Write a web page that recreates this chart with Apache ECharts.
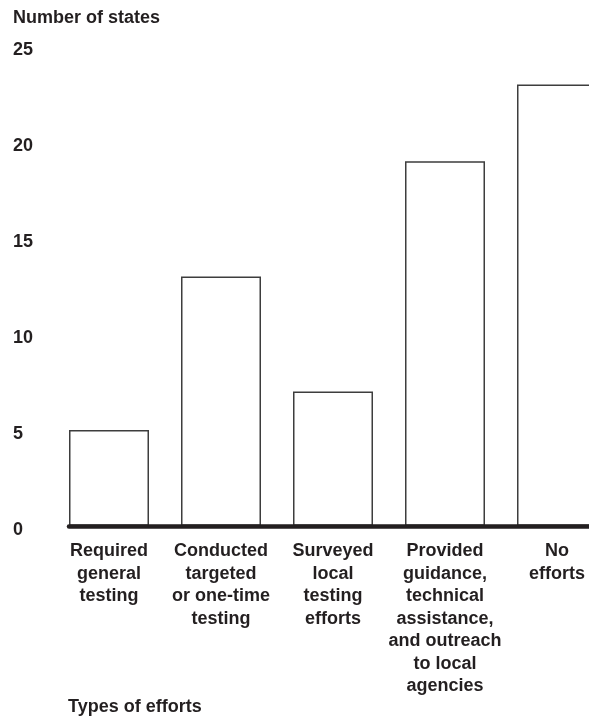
<!DOCTYPE html>
<html>
<head>
<meta charset="utf-8">
<script src="https://cdn.jsdelivr.net/npm/echarts@6/dist/echarts.min.js"></script>
<style>
html,body{margin:0;padding:0;background:#fff;}
#chart{width:589px;height:719px;}
</style>
</head>
<body>
<div id="chart"></div>
<script>
const categories = [
  "Required\ngeneral\ntesting",
  "Conducted\ntargeted\nor one-time\ntesting",
  "Surveyed\nlocal\ntesting\nefforts",
  "Provided\nguidance,\ntechnical\nassistance,\nand outreach\nto local\nagencies",
  "No\nefforts"
];
const values = [5, 13, 7, 19, 23];
const yTicks = [0, 5, 10, 15, 20, 25];
const yTitle = "Number of states";
const xTitle = "Types of efforts";

const txt = '#231f20';
const font = '"Liberation Sans", Arial, Helvetica, sans-serif';
const fs = 18;
const chart = echarts.init(document.getElementById('chart'), null, {renderer: 'canvas'});
chart.setOption({
  animation: false,
  backgroundColor: '#fff',
  textStyle: {fontFamily: font},
  title: [
    {text: yTitle, left: 13, top: 9, padding: 0, textStyle: {fontFamily: font, fontSize: fs, fontWeight: 'bold', color: txt}},
    {text: xTitle, left: 68, top: 698, padding: 0, textStyle: {fontFamily: font, fontSize: fs, fontWeight: 'bold', color: txt}}
  ],
  grid: [
    {left: 53, width: 560, top: 46, bottom: 193, outerBoundsMode: 'none', containLabel: false},
    {left: 69, width: 560, top: 46, bottom: 193, outerBoundsMode: 'none', containLabel: false}
  ],
  xAxis: [
    {
      type: 'category', gridIndex: 0, data: categories,
      axisLine: {show: false}, axisTick: {show: false},
      axisLabel: {interval: 0, margin: 14, fontFamily: font, fontSize: fs, fontWeight: 'bold', color: txt, lineHeight: 22.5, align: 'center'}
    },
    {
      type: 'value', gridIndex: 1, min: 0, max: 1, z: 10,
      axisLine: {show: true, lineStyle: {color: txt, width: 4.5}},
      axisTick: {show: false}, axisLabel: {show: false}, splitLine: {show: false}
    }
  ],
  yAxis: [
    {
      type: 'value', gridIndex: 0, min: yTicks[0], max: yTicks[yTicks.length - 1], interval: 5,
      axisLine: {show: false}, axisTick: {show: false}, splitLine: {show: false},
      axisLabel: {margin: 40, align: 'left', verticalAlign: 'top', lineHeight: 9, fontFamily: font, fontSize: fs, fontWeight: 'bold', color: txt}
    },
    {type: 'value', gridIndex: 1, min: 0, max: 25, show: false}
  ],
  series: [{
    type: 'bar', xAxisIndex: 0, yAxisIndex: 0, data: values, barWidth: 80,
    itemStyle: {color: '#fff', borderColor: '#3d3d3d', borderWidth: 1.5}
  }]
});
</script>
</body>
</html>
